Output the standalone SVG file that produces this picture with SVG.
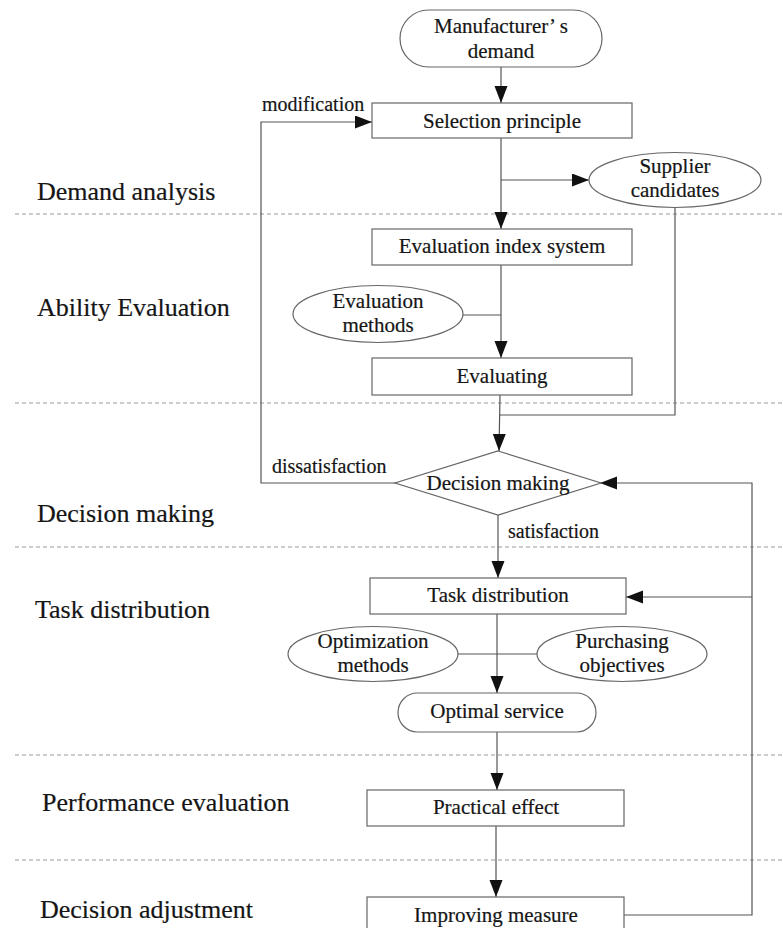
<svg xmlns="http://www.w3.org/2000/svg" width="783" height="928" viewBox="0 0 783 928">
  <defs>
    <marker id="arrow" markerUnits="userSpaceOnUse" markerWidth="18" markerHeight="14" refX="17" refY="6.5" orient="auto">
      <path d="M0,0 L17,6.5 L0,13 Z" fill="#111"/>
    </marker>
    <style>
      .box { fill: #fff; stroke: #666; stroke-width: 1.2; }
      .link { fill: none; stroke: #555; stroke-width: 1.2; }
      .arr { marker-end: url(#arrow); }
      .sep { stroke: #9a9a9a; stroke-width: 1.2; stroke-dasharray: 4 3; }
      text { font-family: "Liberation Serif", "Times New Roman", serif; fill: #151515; stroke: #151515; stroke-width: 0.2; }
      .node { font-size: 21px; text-anchor: middle; }
      .lane { font-size: 26px; }
      .tag { font-size: 20px; }
    </style>
  </defs>

  <!-- stage separators -->
  <g id="separators">
    <line class="sep" x1="15" y1="214" x2="783" y2="214"/>
    <line class="sep" x1="15" y1="403" x2="783" y2="403"/>
    <line class="sep" x1="15" y1="547" x2="783" y2="547"/>
    <line class="sep" x1="15" y1="755" x2="783" y2="755"/>
    <line class="sep" x1="15" y1="860" x2="783" y2="860"/>
  </g>

  <!-- stage names -->
  <g id="lanes">
    <text class="lane" x="37" y="200">Demand analysis</text>
    <text class="lane" x="37" y="316">Ability Evaluation</text>
    <text class="lane" x="37" y="522">Decision making</text>
    <text class="lane" x="35" y="618">Task distribution</text>
    <text class="lane" x="42" y="811">Performance evaluation</text>
    <text class="lane" x="40" y="918">Decision adjustment</text>
  </g>

  <!-- connectors -->
  <g id="connectors">
    <line class="link arr" x1="501" y1="67" x2="501" y2="103"/>
    <line class="link arr" x1="501" y1="138" x2="501" y2="229"/>
    <line class="link arr" x1="501" y1="180" x2="589" y2="180"/>
    <line class="link arr" x1="501" y1="265" x2="501" y2="358"/>
    <line class="link" x1="463" y1="315" x2="501" y2="315"/>
    <polyline class="link" points="675,207 675,415 500,415"/>
    <line class="link arr" x1="500" y1="395" x2="499" y2="451"/>
    <polyline class="link arr" points="396,483 261,483 261,122 372,122"/>
    <line class="link arr" x1="498" y1="515" x2="498" y2="578"/>
    <polyline class="link arr" points="624,915 752,915 752,483 600,483"/>
    <line class="link arr" x1="752" y1="597" x2="626" y2="597"/>
    <line class="link arr" x1="497" y1="614" x2="497" y2="693"/>
    <line class="link" x1="458" y1="654" x2="537" y2="654"/>
    <line class="link arr" x1="497" y1="732" x2="497" y2="790"/>
    <line class="link arr" x1="496" y1="826" x2="496" y2="897"/>
    <text class="tag" x="262" y="111">modification</text>
    <text class="tag" x="272" y="473">dissatisfaction</text>
    <text class="tag" x="508" y="538">satisfaction</text>
  </g>

  <g id="manufacturer-demand">
    <rect class="box" x="400" y="10" width="202" height="57" rx="28.5"/>
    <text class="node" x="501" y="33">Manufacturer’ s</text>
    <text class="node" x="501" y="58">demand</text>
  </g>

  <g id="selection-principle">
    <rect class="box" x="372" y="103" width="260" height="35"/>
    <text class="node" x="502" y="128">Selection principle</text>
  </g>

  <g id="supplier-candidates">
    <ellipse class="box" cx="675" cy="180" rx="86" ry="27.5"/>
    <text class="node" x="675" y="173">Supplier</text>
    <text class="node" x="675" y="197">candidates</text>
  </g>

  <g id="evaluation-index-system">
    <rect class="box" x="372" y="229" width="260" height="36"/>
    <text class="node" x="502" y="253">Evaluation index system</text>
  </g>

  <g id="evaluation-methods">
    <ellipse class="box" cx="378" cy="314" rx="85" ry="28.5"/>
    <text class="node" x="378" y="308">Evaluation</text>
    <text class="node" x="378" y="332">methods</text>
  </g>

  <g id="evaluating">
    <rect class="box" x="372" y="358" width="260" height="37"/>
    <text class="node" x="502" y="383">Evaluating</text>
  </g>

  <g id="decision-making">
    <polygon class="box" points="498,451 601,483 498,515 395,483"/>
    <text class="node" x="498" y="490">Decision making</text>
  </g>

  <g id="task-distribution">
    <rect class="box" x="370" y="578" width="256" height="36"/>
    <text class="node" x="498" y="602">Task distribution</text>
  </g>

  <g id="optimization-methods">
    <ellipse class="box" cx="373" cy="654" rx="85" ry="27.5"/>
    <text class="node" x="373" y="648">Optimization</text>
    <text class="node" x="373" y="672">methods</text>
  </g>

  <g id="purchasing-objectives">
    <ellipse class="box" cx="622" cy="654" rx="85" ry="27.5"/>
    <text class="node" x="622" y="648">Purchasing</text>
    <text class="node" x="622" y="672">objectives</text>
  </g>

  <g id="optimal-service">
    <rect class="box" x="398" y="693" width="198" height="39" rx="19.5"/>
    <text class="node" x="497" y="718">Optimal service</text>
  </g>

  <g id="practical-effect">
    <rect class="box" x="367" y="790" width="257" height="36"/>
    <text class="node" x="496" y="814">Practical effect</text>
  </g>

  <g id="improving-measure">
    <rect class="box" x="367" y="897" width="257" height="40"/>
    <text class="node" x="496" y="922">Improving measure</text>
  </g>
</svg>
